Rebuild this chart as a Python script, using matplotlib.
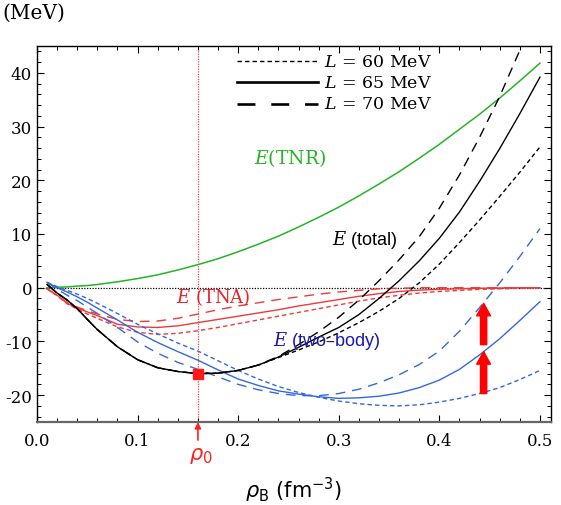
import matplotlib
matplotlib.use('Agg')
import matplotlib.pyplot as plt
from matplotlib.ticker import MultipleLocator, FormatStrFormatter

plt.rcParams['mathtext.fontset'] = 'dejavuserif'
plt.rcParams['font.family'] = ['DejaVu Serif']

# ---------------- data ----------------
rho = [0.01, 0.02, 0.03, 0.04, 0.05, 0.06, 0.08, 0.10, 0.12, 0.14, 0.16, 0.18, 0.20,
       0.22, 0.24, 0.26, 0.28, 0.30, 0.32, 0.34, 0.36, 0.38, 0.40, 0.42, 0.44, 0.46,
       0.48, 0.50]

e_tnr = [0.0, 0.1, 0.15, 0.3, 0.4, 0.6, 1.1, 1.7, 2.4, 3.3, 4.3, 5.4, 6.7,
         8.1, 9.6, 11.3, 13.1, 15.0, 17.1, 19.3, 21.6, 24.1, 26.7, 29.5, 32.3, 35.3,
         38.5, 41.8]

e_tna_60 = [-0.2, -1.5, -3.0, -4.0, -4.9, -5.7, -7.3, -8.3, -8.7, -8.5, -8.0, -7.4, -6.7,
            -6.0, -5.3, -4.6, -3.9, -3.2, -2.5, -1.9, -1.4, -1.0, -0.7, -0.5, -0.3, -0.2,
            -0.1, 0.0]
e_tna_65 = [-0.2, -1.4, -2.9, -3.8, -4.5, -5.2, -6.8, -7.3, -7.4, -7.1, -6.5, -5.9, -5.3,
            -4.7, -4.1, -3.4, -2.8, -2.2, -1.6, -1.1, -0.7, -0.45, -0.3, -0.2, -0.1, -0.05,
            0.0, 0.0]
e_tna_70 = [-0.2, -1.4, -2.8, -3.6, -4.3, -4.9, -5.9, -6.3, -6.2, -5.7, -4.9, -4.1, -3.4,
            -2.8, -2.2, -1.7, -1.2, -0.8, -0.5, -0.2, -0.1, 0.0, 0.0, 0.0, 0.0, 0.0,
            0.0, 0.0]

e_two_60 = [1.0, 0.2, -0.5, -1.2, -2.0, -2.9, -4.8, -6.8, -8.6, -10.3, -11.8, -13.6, -15.4,
            -17.0, -18.4, -19.5, -20.4, -21.1, -21.6, -21.9, -22.0, -21.8, -21.3, -20.6, -19.7, -18.6,
            -17.1, -15.4]
e_two_65 = [1.0, 0.0, -0.8, -1.7, -2.7, -3.8, -6.0, -8.3, -10.2, -11.9, -13.5, -15.3, -17.0,
            -18.2, -19.2, -19.8, -20.3, -20.6, -20.5, -20.2, -19.6, -18.6, -17.2, -15.2, -12.5, -9.5,
            -6.1, -2.6]
e_two_70 = [1.0, -0.3, -1.4, -2.4, -3.6, -4.8, -7.4, -10.1, -12.2, -13.9, -15.2, -16.6, -18.0,
            -19.0, -19.7, -20.1, -20.1, -19.7, -18.9, -17.7, -16.2, -14.3, -11.8, -8.1, -3.7, 0.9,
            5.8, 11.0]

e_tot_60 = [0.6, -1.0, -2.3, -3.9, -5.9, -7.8, -11.0, -13.4, -14.9, -15.6, -16.0, -15.9, -15.4,
            -14.4, -13.0, -11.6, -10.1, -8.4, -6.5, -4.4, -2.0, 0.9, 4.4, 8.4, 12.6, 17.0,
            21.5, 26.2]
e_tot_65 = [0.6, -1.0, -2.3, -3.9, -5.9, -7.8, -11.0, -13.4, -14.9, -15.6, -16.0, -15.9, -15.4,
            -14.4, -12.9, -11.1, -9.2, -7.4, -5.0, -2.0, 1.3, 5.0, 9.2, 14.1, 19.8, 25.9,
            32.4, 39.2]
e_tot_70 = [0.6, -1.0, -2.3, -3.9, -5.9, -7.8, -11.0, -13.4, -14.9, -15.6, -16.0, -15.9, -15.4,
            -14.4, -12.8, -10.6, -8.2, -5.5, -2.3, 1.3, 5.2, 9.5, 14.8, 21.0, 28.0, 35.6,
            44.2, 52.8]

rho0 = 0.16
e0 = -16.0
arrow_x = 0.444
arrows = [(-19.7, -11.9), (-10.6, -2.9)]

legend_labels = [r'$L$ = 60 MeV', r'$L$ = 65 MeV', r'$L$ = 70 MeV']

# ---------------- styles ----------------
GREEN = '#26b426'
RED = '#ee3a3a'
BLUE = '#3568dc'
BLACK = '#000000'
ls_60 = (0, (3.2, 2.2))
ls_65 = '-'
ls_70 = (0, (7, 5))

fig = plt.figure(figsize=(5.61, 5.06), dpi=100)
ax = fig.add_axes([37 / 561, 1 - 423 / 506, 514 / 561, 376 / 506])

ax.axhline(0, color='k', ls=(0, (1, 1.2)), lw=0.9, zorder=1)
ax.axvline(rho0, color='#ff4040', ls=(0, (1, 1)), lw=0.9, zorder=1)

ax.plot(rho, e_tnr, color=GREEN, lw=1.1)

for ys, ls in [(e_tna_60, ls_60), (e_tna_65, ls_65), (e_tna_70, ls_70)]:
    ax.plot(rho, ys, color=RED, ls=ls, lw=1.0)
for ys, ls in [(e_two_60, ls_60), (e_two_65, ls_65), (e_two_70, ls_70)]:
    ax.plot(rho, ys, color=BLUE, ls=ls, lw=1.0)
for ys, ls in [(e_tot_60, ls_60), (e_tot_65, ls_65), (e_tot_70, ls_70)]:
    ax.plot(rho, ys, color=BLACK, ls=ls, lw=1.0)

ax.plot([rho0], [e0], marker='s', ms=7, color='#ff1a1a', zorder=5)

for y0, y1 in arrows:
    ax.annotate('', xy=(arrow_x, y1), xytext=(arrow_x, y0),
                arrowprops=dict(width=4.5, headwidth=10, headlength=9,
                                color='#ff0000', shrink=0), zorder=6)

# rho0 arrow below axis
ax.annotate('', xy=(rho0, 0), xycoords=('data', 'axes fraction'),
            xytext=(0, -13), textcoords='offset points',
            arrowprops=dict(arrowstyle='-|>', color='#ff2020', lw=1.2,
                            mutation_scale=9, shrinkA=0, shrinkB=0),
            annotation_clip=False)
ax.annotate(r'$\rho_0$', xy=(rho0, 0), xycoords=('data', 'axes fraction'),
            xytext=(2, -24), textcoords='offset points', ha='center', va='center',
            color='#ff2020', fontsize=15, family='DejaVu Sans',
            math_fontfamily='dejavusans', annotation_clip=False)

# curve labels
ax.text(0.252, 24.4, r'$E$(TNR)', color=GREEN, fontsize=13.5, ha='center', va='center',
        family='DejaVu Serif')
ax.text(0.326, 9.1, r'$E$ (total)', color='k', fontsize=13, ha='center', va='center',
        family='Liberation Sans')
ax.text(0.175, -1.5, r'$E$ (TNA)', color='#e8202a', fontsize=13, ha='center', va='center',
        family='DejaVu Serif')
ax.text(0.288, -9.7, '$E$ (two\u2013body)', color='#1a1aaa', fontsize=13, ha='center',
        va='center', family='Liberation Sans')

# legend (drawn manually)
leg_rows = [0.960, 0.903, 0.846]
leg_styles = [(ls_60, 1.0), ('-', 1.9), ((0, (6.8, 6.0)), 1.9)]
for yr, (ls, lw), lab in zip(leg_rows, leg_styles, legend_labels):
    ax.plot([0.389, 0.547], [yr, yr], transform=ax.transAxes, color='k', ls=ls, lw=lw,
            clip_on=False)
    ax.text(0.558, yr, lab, transform=ax.transAxes, ha='left', va='center',
            fontsize=12.5, family='DejaVu Serif')

ax.set_xlim(0, 0.511)
ax.set_ylim(-25, 45)
ax.xaxis.set_major_locator(MultipleLocator(0.1))
ax.xaxis.set_minor_locator(MultipleLocator(0.02))
ax.yaxis.set_major_locator(MultipleLocator(10))
ax.yaxis.set_minor_locator(MultipleLocator(2))
ax.xaxis.set_major_formatter(FormatStrFormatter('%.1f'))
ax.yaxis.set_major_formatter(FormatStrFormatter('%d'))
ax.tick_params(which='both', direction='in', top=True, right=True, labelsize=12)
ax.tick_params(which='major', length=5, width=0.8)
ax.tick_params(which='minor', length=2.8, width=0.7)
ax.tick_params(axis='x', pad=7)
ax.tick_params(axis='y', pad=3.5)
for lab in ax.get_xticklabels() + ax.get_yticklabels():
    lab.set_family('DejaVu Serif')
for s in ['left', 'top', 'right']:
    ax.spines[s].set_linewidth(1.0)
    ax.spines[s].set_color('k')
ax.spines['bottom'].set_color('#666666')
ax.spines['bottom'].set_linewidth(1.6)

fig.text(2 / 561, 1 - 13 / 506, '(MeV)', fontsize=14.5, family='DejaVu Serif',
         ha='left', va='center')
fig.text(294 / 561, 1 - 490 / 506, r'$\rho_{\mathrm{B}}$ (fm$^{-3}$)', fontsize=15,
         family='DejaVu Sans', math_fontfamily='dejavusans', ha='center', va='center')

fig.savefig('out.png', dpi=100)
